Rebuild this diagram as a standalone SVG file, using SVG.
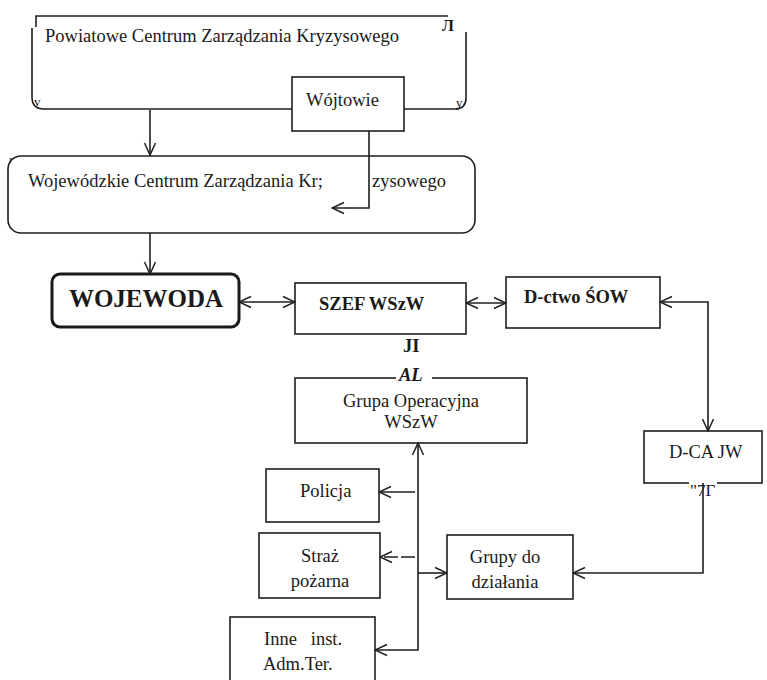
<svg xmlns="http://www.w3.org/2000/svg" width="767" height="680" viewBox="0 0 767 680">
<defs>
<style>
.t{font-family:"Liberation Serif","Times New Roman",serif;font-size:18.5px;fill:#1a1a1a}
.b{font-weight:bold}
.box{fill:none;stroke:#1f1f1f;stroke-width:1.6}
.ln{fill:none;stroke:#1f1f1f;stroke-width:1.6}
.art{font-family:"Liberation Serif",serif;fill:#1a1a1a}
</style>
<marker id="ah" viewBox="0 0 14 14" refX="13" refY="7" markerWidth="14" markerHeight="14" markerUnits="userSpaceOnUse" orient="auto-start-reverse">
<path d="M1,1.5 L13,7 L1,12.5" fill="none" stroke="#1f1f1f" stroke-width="1.5"/>
</marker>
</defs>
<rect width="767" height="680" fill="#fff"/>

<g id="powiatowe">
<path class="ln" d="M36,27 V16 H448"/>
<path class="ln" d="M32,28 V97 Q32,109 44,109 H292"/>
<path class="ln" d="M404,109 H455 Q466,109 466,98 V32"/>
<text class="art" x="442" y="31" font-size="16" font-family="DejaVu Sans" font-weight="bold">Л</text>
<text class="art" x="34" y="106" font-size="13">v</text>
<text class="art" x="456" y="107" font-size="13">y</text>
<text class="t" x="45" y="42">Powiatowe Centrum Zarządzania Kryzysowego</text>
</g>

<g id="wojtowie">
<rect class="box" x="292" y="77" width="112" height="54" fill="#fff"/>
<text class="t" x="306" y="106">Wójtowie</text>
</g>

<g id="wojewodzkie">
<rect class="box" x="8" y="156" width="467" height="77" rx="13"/>
<text class="art" x="9" y="163" font-size="10">r</text>
<text class="t" x="28" y="187">Wojewódzkie Centrum Zarządzania Kr;</text>
<text class="t" x="372" y="187">zysowego</text>
</g>

<g id="wojewoda">
<rect x="52" y="274" width="187" height="53" rx="8" fill="none" stroke="#1a1a1a" stroke-width="3"/>
<text class="t b" x="146" y="307" text-anchor="middle" style="font-size:25px">WOJEWODA</text>
</g>

<g id="szef">
<rect class="box" x="295" y="283" width="171" height="51"/>
<text class="t b" x="319" y="310">SZEF WSzW</text>
<text class="t b" x="403" y="352">JI</text>
</g>

<g id="dctwo">
<rect class="box" x="506" y="277" width="154" height="51"/>
<text class="t b" x="524" y="303">D-ctwo ŚOW</text>
</g>

<g id="grupa-operacyjna">
<rect class="box" x="295" y="378" width="232" height="65"/>
<rect x="396" y="366" width="36" height="16" fill="#fff"/>
<text class="t b" x="399" y="381" font-style="italic">AL</text>
<text class="t" x="411" y="407" text-anchor="middle">Grupa Operacyjna</text>
<text class="t" x="411" y="428" text-anchor="middle">WSzW</text>
</g>

<g id="dca-jw">
<rect class="box" x="644" y="431" width="118" height="52"/>
<rect x="689" y="478" width="28" height="10" fill="#fff"/>
<text class="t" x="669" y="458">D-CA JW</text>
<text class="art" x="690" y="496" font-size="17">"7Г</text>
</g>

<g id="policja">
<rect class="box" x="266" y="469" width="113" height="53"/>
<text class="t" x="300" y="497">Policja</text>
</g>

<g id="straz">
<rect class="box" x="259" y="533" width="121" height="65"/>
<text class="t" x="320" y="562" text-anchor="middle">Straż</text>
<text class="t" x="320" y="587" text-anchor="middle">pożarna</text>
</g>

<g id="inne">
<rect class="box" x="230" y="617" width="145" height="70"/>
<text class="t" x="264" y="645" style="white-space:pre">Inne   inst.</text>
<text class="t" x="263" y="670">Adm.Ter.</text>
</g>

<g id="grupy">
<rect class="box" x="447" y="535" width="126" height="64"/>
<text class="t" x="505" y="563" text-anchor="middle">Grupy do</text>
<text class="t" x="505" y="588" text-anchor="middle">działania</text>
</g>

<g id="connectors">
<path class="ln" d="M150,110 V155" marker-end="url(#ah)"/>
<path class="ln" d="M369,131 V208 H332" marker-end="url(#ah)"/>
<path class="ln" d="M150,233 V274" marker-end="url(#ah)"/>
<path class="ln" d="M239,302 H295" marker-start="url(#ah)" marker-end="url(#ah)"/>
<path class="ln" d="M466,303 H506" marker-start="url(#ah)" marker-end="url(#ah)"/>
<path class="ln" d="M660,302 H708 V431" marker-start="url(#ah)" marker-end="url(#ah)"/>
<path class="ln" d="M703,483 V573 H573" marker-end="url(#ah)"/>
<path class="ln" d="M375,650 H418 V443" marker-start="url(#ah)" marker-end="url(#ah)"/>
<path class="ln" d="M415,492 H379" marker-end="url(#ah)"/>
<path class="ln" d="M415,557 H380" marker-end="url(#ah)" stroke-dasharray="14,3"/>
<path class="ln" d="M418,573 H447" marker-end="url(#ah)"/>
</g>
</svg>
